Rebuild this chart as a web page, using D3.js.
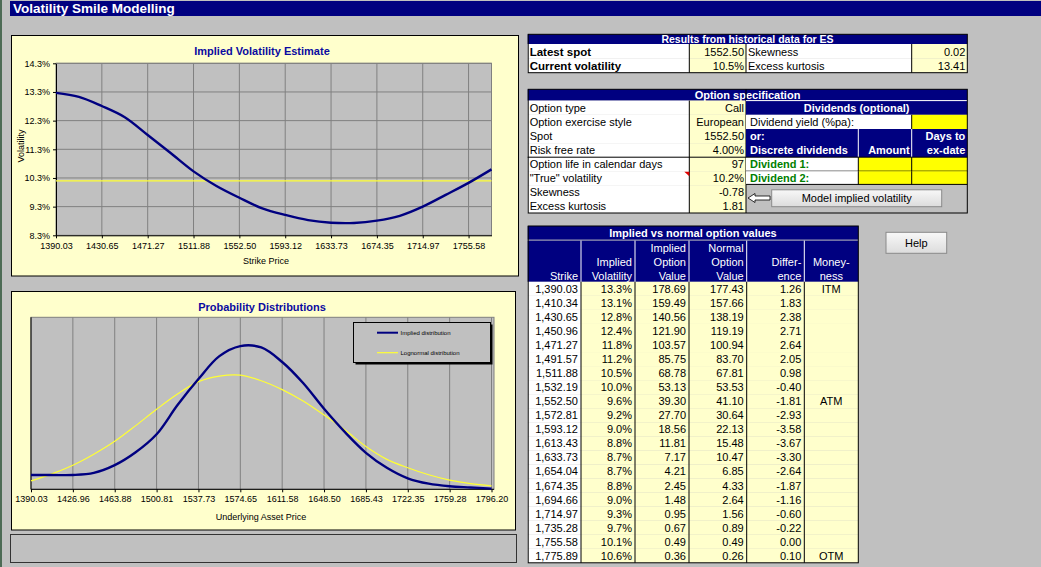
<!DOCTYPE html>
<html>
<head>
<meta charset="utf-8">
<script src="https://cdn.jsdelivr.net/npm/d3@7"></script>
<style>
  body { margin: 0; background: #C0C0C0; }
  svg text { font-family: Arial, "Liberation Sans", sans-serif; }
</style>
</head>
<body>
<div id="sheet"></div>
<script>
/* Volatility smile: strike vs implied volatility (%) */
const strikes = [1390.03, 1410.34, 1430.65, 1450.96, 1471.27, 1491.57, 1511.88, 1532.19, 1552.50, 1572.81,
    1593.12, 1613.43, 1633.73, 1654.04, 1674.35, 1694.66, 1714.97, 1735.28, 1755.58, 1775.89];
const impliedVol = [13.27, 13.13, 12.81, 12.42, 11.80, 11.17, 10.53, 10.02, 9.61, 9.24,
    9.01, 8.83, 8.74, 8.73, 8.81, 8.98, 9.30, 9.71, 10.13, 10.60];
const trueVol = 10.2;
const volTicks = [8.3, 9.3, 10.3, 11.3, 12.3, 13.3, 14.3];
const strikeTicks = [1390.03, 1430.65, 1471.27, 1511.88, 1552.50, 1593.12, 1633.73, 1674.35, 1714.97, 1755.58];

// Option values table
const impliedValue = [178.69, 159.49, 140.56, 121.90, 103.57, 85.75, 68.78, 53.13, 39.30, 27.70,
    18.56, 11.81, 7.17, 4.21, 2.45, 1.48, 0.95, 0.67, 0.49, 0.36];
const normalValue = [177.43, 157.66, 138.19, 119.19, 100.94, 83.70, 67.81, 53.53, 41.10, 30.64,
    22.13, 15.48, 10.47, 6.85, 4.33, 2.64, 1.56, 0.89, 0.49, 0.26];
const difference = [1.26, 1.83, 2.38, 2.71, 2.64, 2.05, 0.98, -0.40, -1.81, -2.93,
    -3.58, -3.67, -3.30, -2.64, -1.87, -1.16, -0.60, -0.22, 0.00, 0.10];
const moneyness = ["ITM", "", "", "", "", "", "", "", "ATM", "", "", "", "", "", "", "", "", "", "", "OTM"];

// Probability distributions (density, arbitrary units)
const assetPrices = [1390.03, 1408.49, 1426.96, 1445.42, 1463.88, 1482.35, 1500.81, 1519.27, 1537.73, 1556.19,
    1574.65, 1593.12, 1611.58, 1630.04, 1648.50, 1666.96, 1685.43, 1703.89, 1722.35, 1740.81, 1759.28, 1777.74, 1796.20];
const impliedDist = [0.61, 0.61, 0.61, 0.70, 1.03, 1.58, 2.35, 3.60, 4.71, 5.69, 6.12, 6.06,
    5.44, 4.54, 3.44, 2.44, 1.56, 0.92, 0.47, 0.24, 0.13, 0.08, 0.03];
const lognormalDist = [0.36, 0.66, 1.03, 1.50, 2.05, 2.72, 3.42, 4.07, 4.60, 4.84, 4.88, 4.64,
    4.26, 3.77, 3.17, 2.53, 1.83, 1.28, 0.92, 0.62, 0.39, 0.24, 0.15];
const assetTicks = [1390.03, 1426.96, 1463.88, 1500.81, 1537.73, 1574.65, 1611.58, 1648.50, 1685.43, 1722.35, 1759.28, 1796.20];

// Sheet texts
const histLabels = ["Latest spot", "Current volatility"];
const histValues = ["1552.50", "10.5%"];
const histLabels2 = ["Skewness", "Excess kurtosis"];
const histValues2 = ["0.02", "13.41"];
const specLabels = ["Option type", "Option exercise style", "Spot", "Risk free rate",
    "Option life in calendar days", "\"True\" volatility", "Skewness", "Excess kurtosis"];
const specValues = ["Call", "European", "1552.50", "4.00%", "97", "10.2%", "-0.78", "1.81"];
const colHeaders = [["Strike"], ["Implied", "Volatility"], ["Implied", "Option", "Value"],
    ["Normal", "Option", "Value"], ["Differ-", "ence"], ["Money-", "ness"]];

const NAVY = "#000080", CREAM = "#FFFFCC", GRID = "#808080", PLOT = "#C0C0C0";

const svg = d3.select("#sheet").append("svg")
    .attr("width", 1041)
    .attr("height", 567);

const defs = svg.append("defs");
const btnGrad = defs.append("linearGradient")
    .attr("id", "btn-grad")
    .attr("x1", "0%").attr("y1", "0%").attr("x2", "0%").attr("y2", "100%");
btnGrad.append("stop").attr("offset", "0%").attr("stop-color", "#F8F8F8");
btnGrad.append("stop").attr("offset", "100%").attr("stop-color", "#DCDCDC");

svg.append("rect").attr("width", 1041).attr("height", 567).attr("fill", "#C0C0C0");
svg.append("rect").attr("width", 2).attr("height", 567).attr("fill", "#4d6b55");

// Title bar
svg.append("rect").attr("x", 10).attr("y", 1).attr("width", 1031).attr("height", 15).attr("fill", NAVY);
svg.append("text").attr("x", 13).attr("y", 13)
    .attr("fill", "#fff").attr("font-size", "13.5px").attr("font-weight", "bold")
    .text("Volatility Smile Modelling");

function rect(g, x0, y0, x1, y1, fill, stroke) {
    return g.append("rect")
        .attr("x", x0).attr("y", y0)
        .attr("width", x1 - x0).attr("height", y1 - y0)
        .attr("fill", fill || "none")
        .attr("stroke", stroke || "none");
}
function line(g, x0, y0, x1, y1, color) {
    return g.append("line").attr("x1", x0).attr("y1", y0).attr("x2", x1).attr("y2", y1)
        .attr("stroke", color || "#000").attr("stroke-width", 1);
}
function txt(g, x, y, s, anchor, opts) {
    opts = opts || {};
    return g.append("text").attr("x", x).attr("y", y)
        .attr("text-anchor", anchor || "start")
        .attr("font-size", opts.size || "11px")
        .attr("font-weight", opts.bold ? "bold" : "normal")
        .attr("fill", opts.color || "#000")
        .text(s);
}

/* ---------- Chart 1: Implied Volatility Estimate ---------- */
(function () {
    const g = svg.append("g");
    const box = { left: 11.5, top: 35.5, right: 518.5, bottom: 276 };
    const p = { left: 56, right: 491.5, top: 63.3, bottom: 235.3 };
    rect(g, box.left, box.top, box.right, box.bottom, CREAM, "#000");
    txt(g, 262, 55, "Implied Volatility Estimate", "middle", { size: "11px", bold: true, color: "#0a0aa0" });

    const x = d3.scaleLinear().domain([strikes[0], strikes[strikes.length - 1]]).range([p.left, p.right]);
    const y = d3.scaleLinear().domain([8.3, 14.3]).range([p.bottom, p.top]);

    rect(g, p.left, p.top, p.right, p.bottom, PLOT, GRID);

    // gridlines
    g.selectAll(".hgrid").data(volTicks.slice(1)).enter().append("line")
        .attr("x1", p.left).attr("x2", p.right)
        .attr("y1", d => y(d)).attr("y2", d => y(d))
        .attr("stroke", GRID);
    g.selectAll(".vgrid").data(strikeTicks.slice(1)).enter().append("line")
        .attr("y1", p.top).attr("y2", p.bottom)
        .attr("x1", d => x(d)).attr("x2", d => x(d))
        .attr("stroke", GRID);

    const yAxis = g.append("g")
        .attr("transform", `translate(${p.left},0)`)
        .call(d3.axisLeft(y).tickValues(volTicks).tickFormat(d => d.toFixed(1) + "%").tickSize(3).tickSizeOuter(0));
    const xAxis = g.append("g")
        .attr("transform", `translate(0,${p.bottom})`)
        .call(d3.axisBottom(x).tickValues(strikeTicks).tickFormat(d => d.toFixed(2)).tickSize(3).tickSizeOuter(0).tickPadding(4));
    [xAxis, yAxis].forEach(a => {
        a.attr("font-family", null).attr("font-size", null);
        a.selectAll("text").attr("font-size", "9px").attr("fill", "#000");
        a.select(".domain").attr("stroke", "#000");
    });

    txt(g, 266, 264, "Strike Price", "middle", { size: "9px" });
    txt(g, 0, 0, "Volatility", "middle", { size: "9px" })
        .attr("transform", "translate(24,146) rotate(-90)");

    // true volatility reference
    g.append("line")
        .attr("x1", p.left).attr("x2", p.right)
        .attr("y1", y(trueVol)).attr("y2", y(trueVol))
        .attr("stroke", "#FFFF33").attr("stroke-width", 1.2);

    g.append("path")
        .datum(strikes.map((s, i) => ({ x: s, y: impliedVol[i] })))
        .attr("fill", "none")
        .attr("stroke", NAVY)
        .attr("stroke-width", 2.4)
        .attr("d", d3.line().x(d => x(d.x)).y(d => y(d.y)).curve(d3.curveCatmullRom));
})();

/* ---------- Chart 2: Probability Distributions ---------- */
(function () {
    const g = svg.append("g");
    const box = { left: 11.5, top: 291.5, right: 515.5, bottom: 530 };
    const p = { left: 31, right: 491.5, plotRight: 494, top: 317.3, bottom: 489.3 };
    rect(g, box.left, box.top, box.right, box.bottom, CREAM, "#000");
    txt(g, 262, 310.5, "Probability Distributions", "middle", { size: "11px", bold: true, color: "#0a0aa0" });

    const x = d3.scaleLinear().domain([assetTicks[0], assetTicks[assetTicks.length - 1]]).range([p.left, p.right]);
    const y = d3.scaleLinear().domain([0, 7.35]).range([p.bottom, p.top]);

    rect(g, p.left, p.top, p.plotRight, p.bottom, PLOT, GRID);
    g.selectAll(".vgrid").data(assetTicks.slice(1)).enter().append("line")
        .attr("y1", p.top).attr("y2", p.bottom)
        .attr("x1", d => x(d)).attr("x2", d => x(d))
        .attr("stroke", GRID);

    const xAxis = g.append("g")
        .attr("transform", `translate(0,${p.bottom})`)
        .call(d3.axisBottom(x).tickValues(assetTicks).tickFormat(d => d.toFixed(2)).tickSize(3).tickSizeOuter(0).tickPadding(3));
    xAxis.attr("font-family", null).attr("font-size", null);
    xAxis.selectAll("text").attr("font-size", "9px").attr("fill", "#000");
    xAxis.select(".domain").attr("d", `M${p.left},0H${p.plotRight}`).attr("stroke", "#000");
    line(g, p.left, p.top, p.left, p.bottom, "#000");

    txt(g, 261, 520, "Underlying Asset Price", "middle", { size: "9px" });

    const curve = d3.line().x(d => x(d.x)).y(d => y(d.y)).curve(d3.curveCatmullRom);
    g.append("path")
        .datum(assetPrices.map((a, i) => ({ x: a, y: lognormalDist[i] })))
        .attr("fill", "none").attr("stroke", "#FFFF33").attr("stroke-width", 1.2)
        .attr("d", curve);
    g.append("path")
        .datum(assetPrices.map((a, i) => ({ x: a, y: impliedDist[i] })))
        .attr("fill", "none").attr("stroke", NAVY).attr("stroke-width", 2.4)
        .attr("d", curve);

    // legend
    rect(g, 355.5, 324.5, 492.5, 364.5, "#000");
    rect(g, 353.5, 322.5, 490.5, 362.5, PLOT, "#000");
    line(g, 377, 332.7, 398, 332.7, NAVY).attr("stroke-width", 2);
    line(g, 377, 352.7, 398, 352.7, "#FFFF33").attr("stroke-width", 1.2);
    txt(g, 400.5, 335, "Implied distribution", "start", { size: "6px" });
    txt(g, 400.5, 355, "Lognormal distribution", "start", { size: "6px" });

    // empty text box
    rect(g, 10.5, 534.5, 516.5, 562.5, PLOT, "#333");
})();

/* ---------- Results from historical data ---------- */
(function () {
    const g = svg.append("g");
    const cols = [527.7, 689.3, 746, 911.7, 967.3];
    rect(g, cols[0], 34.3, cols[4], 44, NAVY);
    txt(g, 747.5, 42.8, "Results from historical data for ES", "middle", { bold: true, color: "#fff", size: "10.5px" });
    histLabels.forEach((lab, i) => {
        const y0 = 44 + i * 14.35, y1 = y0 + 14.35;
        rect(g, cols[0], y0, cols[1], y1, "#fff");
        rect(g, cols[1], y0, cols[2], y1, CREAM);
        rect(g, cols[2], y0, cols[3], y1, "#fff");
        rect(g, cols[3], y0, cols[4], y1, CREAM);
        txt(g, cols[0] + 2, y0 + 11.5, lab, "start", { bold: true, size: "11.5px" });
        txt(g, cols[2] - 2, y0 + 11.5, histValues[i], "end");
        txt(g, cols[2] + 2, y0 + 11.5, histLabels2[i], "start");
        txt(g, cols[4] - 2, y0 + 11.5, histValues2[i], "end");
    });
    [1, 2, 3].forEach(c => line(g, cols[c], 44, cols[c], 72.7));
    rect(g, cols[0] + 0.5, 34.3, cols[4], 72.7, null, "#000");
})();

/* ---------- Option specification ---------- */
(function () {
    const g = svg.append("g");
    const L = 527.7, V = 689.3, M = 746, A = 858.3, D = 911.7, R = 967.3;
    const rows = [100.6, 114.8, 129, 143.2, 157.2, 171.2, 185.2, 199, 213];
    rect(g, L, 89.3, R, 100.6, NAVY);
    txt(g, 747.5, 98.8, "Option specification", "middle", { bold: true, color: "#fff" });
    specLabels.forEach((lab, i) => {
        rect(g, L, rows[i], V, rows[i + 1], "#fff");
        rect(g, V, rows[i], M, rows[i + 1], CREAM);
        txt(g, L + 2, rows[i] + 11, lab, "start");
        txt(g, M - 2, rows[i] + 11, specValues[i], "end");
    });
    line(g, L, rows[4], M, rows[4]);
    line(g, V, rows[0], V, rows[8]);
    line(g, M, 89.3, M, rows[8]);
    // comment marker
    g.append("path").attr("d", `M${V - 5},${rows[5] + 0.5}H${V}V${rows[5] + 5}Z`).attr("fill", "#E00000");

    // dividends block
    rect(g, M, rows[0], R, rows[1], NAVY);
    line(g, M, rows[0], R, rows[0], "#fff");
    txt(g, (M + R) / 2, rows[0] + 11, "Dividends (optional)", "middle", { bold: true, color: "#fff" });
    rect(g, M, rows[1], D, rows[2], "#fff");
    rect(g, D, rows[1], R, rows[2], "#FFFF00");
    line(g, D, rows[1], D, rows[2]);
    txt(g, M + 4, rows[1] + 11, "Dividend yield (%pa):", "start");
    rect(g, M, rows[2], R, rows[4], NAVY);
    line(g, A, rows[2], A, rows[4], "#fff");
    line(g, D, rows[2], D, rows[4], "#fff");
    txt(g, M + 4, rows[2] + 11, "or:", "start", { bold: true, color: "#fff" });
    txt(g, M + 4, rows[3] + 11, "Discrete dividends", "start", { bold: true, color: "#fff" });
    txt(g, D - 2, rows[3] + 11, "Amount", "end", { bold: true, color: "#fff" });
    txt(g, R - 2, rows[2] + 11, "Days to", "end", { bold: true, color: "#fff" });
    txt(g, R - 2, rows[3] + 11, "ex-date", "end", { bold: true, color: "#fff" });
    ["Dividend 1:", "Dividend 2:"].forEach((lab, i) => {
        const y0 = rows[4 + i], y1 = rows[5 + i] - (i === 1 ? 0.8 : 0);
        rect(g, M, y0, A, y1, "#fff");
        rect(g, A, y0, D, y1, "#FFFF00");
        rect(g, D, y0, R, y1, "#FFFF00");
        line(g, M, y1, R, y1);
        line(g, A, y0, A, y1);
        line(g, D, y0, D, y1);
        txt(g, M + 4, y0 + 11, lab, "start", { bold: true, color: "#008000" });
    });
    line(g, M, rows[4], R, rows[4]);

    // arrow + button
    g.append("path")
        .attr("d", "M748,198L755,193.5V196H770V200H755V202.5Z")
        .attr("fill", "#fff").attr("stroke", "#000").attr("stroke-width", 0.8);
    rect(g, 771.7, 189.8, 941.7, 206.7, "url(#btn-grad)", "#8a8a8a");
    txt(g, 856.7, 202, "Model implied volatility", "middle");

    rect(g, L + 0.5, 89.3, R, rows[8], null, "#000");
})();

/* ---------- Implied vs normal option values ---------- */
(function () {
    const g = svg.append("g");
    const colX = [527.7, 581, 635, 689, 746.7, 804.3, 858.3];
    const top = 281.8, rowH = 14.05;
    rect(g, colX[0], 226, colX[6], 239.6, NAVY);
    txt(g, (colX[0] + colX[6]) / 2, 236.5, "Implied vs normal option values", "middle", { bold: true, color: "#fff" });
    rect(g, colX[0], 240.6, colX[6], top, NAVY);
    colX.slice(1, 6).forEach(cx => line(g, cx, 240.6, cx, top, "#fff"));
    colHeaders.forEach((lines, c) => {
        lines.forEach((s, k) => {
            const yb = 280 - (lines.length - 1 - k) * 14;
            if (c === 5) txt(g, (colX[5] + colX[6]) / 2, yb, s, "middle", { color: "#fff" });
            else txt(g, colX[c + 1] - 3, yb, s, "end", { color: "#fff" });
        });
    });

    const rowData = strikes.map((s, i) => [
        d3.format(",.2f")(s),
        impliedVol[i].toFixed(1) + "%",
        impliedValue[i].toFixed(2),
        normalValue[i].toFixed(2),
        difference[i].toFixed(2),
        moneyness[i]
    ]);

    const rowsG = g.selectAll(".row").data(rowData).enter().append("g")
        .attr("transform", (d, i) => `translate(0,${top + i * rowH})`);
    rowsG.each(function (d) {
        const r = d3.select(this);
        d.forEach((v, c) => {
            rect(r, colX[c], 0, colX[c + 1], rowH, c === 0 ? "#fff" : CREAM);
            if (c === 5) txt(r, (colX[5] + colX[6]) / 2, 11, v, "middle");
            else txt(r, colX[c + 1] - 3, 11, v, "end");
        });
    });
    const bottom = top + strikes.length * rowH;
    colX.slice(1, 6).forEach(cx => line(g, cx, top, cx, bottom));
    rect(g, colX[0] + 0.5, 226, colX[6], bottom, null, "#000");
})();

// Help button
rect(svg, 886, 232.3, 946.7, 253.3, "url(#btn-grad)", "#8a8a8a");
txt(svg, 916.3, 246.5, "Help", "middle");
</script>
</body>
</html>
